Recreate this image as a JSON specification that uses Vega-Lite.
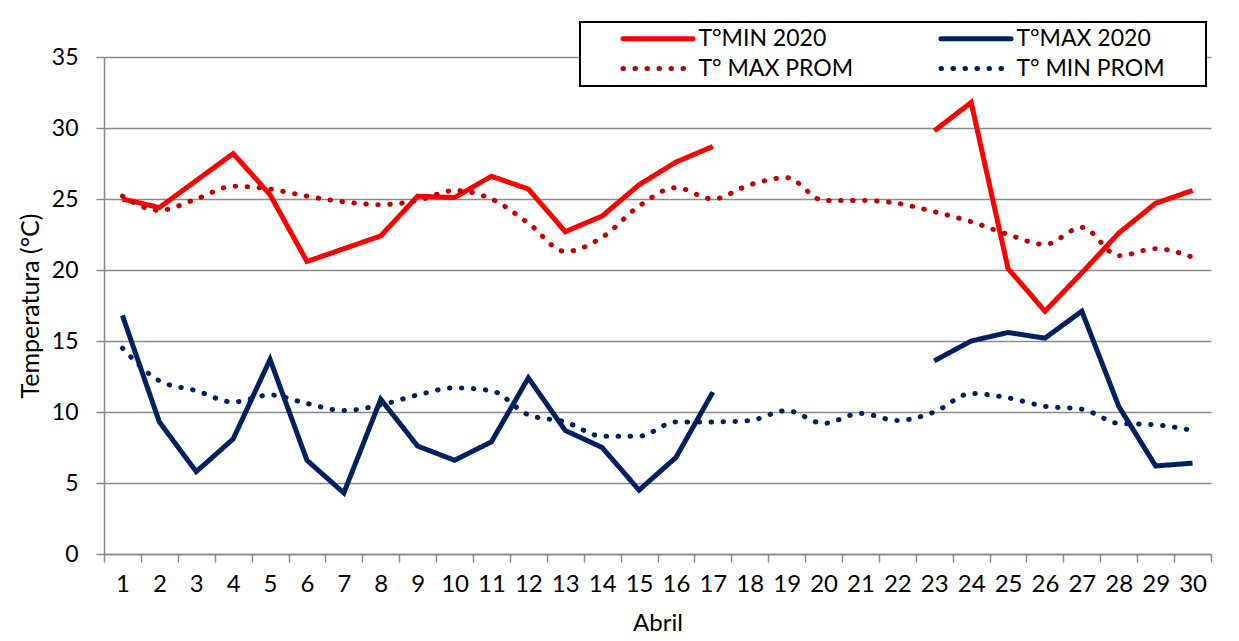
{
  "$schema": "https://vega.github.io/schema/vega-lite/v6.json",
  "width": 1107,
  "height": 497,
  "autosize": {"type": "none"},
  "padding": {"left": 104, "top": 57, "right": 28, "bottom": 87},
  "background": "white",
  "config": {
    "font": "Lato",
    "view": {"stroke": null},
    "legend": {
      "orient": "none",
      "direction": "horizontal",
      "legendX": 476,
      "legendY": -35,
      "columns": 2,
      "symbolType": "M-5,0L5,0",
      "symbolSize": 196,
      "symbolStrokeWidth": 5,
      "symbolOffset": 61.5,
      "labelFontSize": 23,
      "labelColor": "black",
      "labelOffset": 29,
      "strokeColor": "black",
      "strokeWidth": 2,
      "fillColor": "white",
      "padding": 5,
      "columnPadding": 49,
      "rowPadding": 6,
      "titleOrient": "right",
      "titleFontSize": 10,
      "titlePadding": 36
    }
  },
  "data": {
    "values": [
      {"dia": 1, "tramo": "a", "T°MIN 2020": 25.0, "T°MAX 2020": 16.8, "T° MAX PROM": 25.2, "T° MIN PROM": 14.5},
      {"dia": 2, "tramo": "a", "T°MIN 2020": 24.4, "T°MAX 2020": 9.3, "T° MAX PROM": 24.2, "T° MIN PROM": 12.2},
      {"dia": 3, "tramo": "a", "T°MIN 2020": 26.3, "T°MAX 2020": 5.8, "T° MAX PROM": 25.0, "T° MIN PROM": 11.5},
      {"dia": 4, "tramo": "a", "T°MIN 2020": 28.2, "T°MAX 2020": 8.1, "T° MAX PROM": 25.9, "T° MIN PROM": 10.7},
      {"dia": 5, "tramo": "a", "T°MIN 2020": 25.3, "T°MAX 2020": 13.7, "T° MAX PROM": 25.7, "T° MIN PROM": 11.2},
      {"dia": 6, "tramo": "a", "T°MIN 2020": 20.6, "T°MAX 2020": 6.6, "T° MAX PROM": 25.2, "T° MIN PROM": 10.6},
      {"dia": 7, "tramo": "a", "T°MIN 2020": 21.5, "T°MAX 2020": 4.3, "T° MAX PROM": 24.8, "T° MIN PROM": 10.1},
      {"dia": 8, "tramo": "a", "T°MIN 2020": 22.4, "T°MAX 2020": 10.9, "T° MAX PROM": 24.6, "T° MIN PROM": 10.5},
      {"dia": 9, "tramo": "a", "T°MIN 2020": 25.2, "T°MAX 2020": 7.6, "T° MAX PROM": 24.9, "T° MIN PROM": 11.2},
      {"dia": 10, "tramo": "a", "T°MIN 2020": 25.1, "T°MAX 2020": 6.6, "T° MAX PROM": 25.6, "T° MIN PROM": 11.7},
      {"dia": 11, "tramo": "a", "T°MIN 2020": 26.6, "T°MAX 2020": 7.9, "T° MAX PROM": 25.0, "T° MIN PROM": 11.5},
      {"dia": 12, "tramo": "a", "T°MIN 2020": 25.7, "T°MAX 2020": 12.4, "T° MAX PROM": 23.3, "T° MIN PROM": 9.8},
      {"dia": 13, "tramo": "a", "T°MIN 2020": 22.7, "T°MAX 2020": 8.7, "T° MAX PROM": 21.3, "T° MIN PROM": 9.3},
      {"dia": 14, "tramo": "a", "T°MIN 2020": 23.8, "T°MAX 2020": 7.5, "T° MAX PROM": 22.3, "T° MIN PROM": 8.3},
      {"dia": 15, "tramo": "a", "T°MIN 2020": 26.0, "T°MAX 2020": 4.5, "T° MAX PROM": 24.5, "T° MIN PROM": 8.3},
      {"dia": 16, "tramo": "a", "T°MIN 2020": 27.6, "T°MAX 2020": 6.8, "T° MAX PROM": 25.8, "T° MIN PROM": 9.3},
      {"dia": 17, "tramo": "a", "T°MIN 2020": 28.7, "T°MAX 2020": 11.4, "T° MAX PROM": 25.0, "T° MIN PROM": 9.3},
      {"dia": 18, "tramo": "b", "T°MIN 2020": null, "T°MAX 2020": null, "T° MAX PROM": 26.0, "T° MIN PROM": 9.4},
      {"dia": 19, "tramo": "b", "T°MIN 2020": null, "T°MAX 2020": null, "T° MAX PROM": 26.5, "T° MIN PROM": 10.1},
      {"dia": 20, "tramo": "b", "T°MIN 2020": null, "T°MAX 2020": null, "T° MAX PROM": 24.9, "T° MIN PROM": 9.2},
      {"dia": 21, "tramo": "b", "T°MIN 2020": null, "T°MAX 2020": null, "T° MAX PROM": 24.9, "T° MIN PROM": 9.9},
      {"dia": 22, "tramo": "b", "T°MIN 2020": null, "T°MAX 2020": null, "T° MAX PROM": 24.7, "T° MIN PROM": 9.4},
      {"dia": 23, "tramo": "b", "T°MIN 2020": 29.8, "T°MAX 2020": 13.6, "T° MAX PROM": 24.1, "T° MIN PROM": 10.0},
      {"dia": 24, "tramo": "b", "T°MIN 2020": 31.8, "T°MAX 2020": 15.0, "T° MAX PROM": 23.4, "T° MIN PROM": 11.3},
      {"dia": 25, "tramo": "b", "T°MIN 2020": 20.1, "T°MAX 2020": 15.6, "T° MAX PROM": 22.5, "T° MIN PROM": 11.0},
      {"dia": 26, "tramo": "b", "T°MIN 2020": 17.1, "T°MAX 2020": 15.2, "T° MAX PROM": 21.8, "T° MIN PROM": 10.4},
      {"dia": 27, "tramo": "b", "T°MIN 2020": 19.8, "T°MAX 2020": 17.1, "T° MAX PROM": 23.0, "T° MIN PROM": 10.2},
      {"dia": 28, "tramo": "b", "T°MIN 2020": 22.6, "T°MAX 2020": 10.4, "T° MAX PROM": 21.0, "T° MIN PROM": 9.2},
      {"dia": 29, "tramo": "b", "T°MIN 2020": 24.7, "T°MAX 2020": 6.2, "T° MAX PROM": 21.5, "T° MIN PROM": 9.1},
      {"dia": 30, "tramo": "b", "T°MIN 2020": 25.6, "T°MAX 2020": 6.4, "T° MAX PROM": 20.9, "T° MIN PROM": 8.7}
    ]
  },
  "transform": [
    {"fold": ["T°MIN 2020", "T°MAX 2020", "T° MAX PROM", "T° MIN PROM"], "as": ["serie", "valor"]}
  ],
  "encoding": {
    "x": {
      "field": "dia",
      "type": "ordinal",
      "bandPosition": 0.5,
      "scale": {"type": "band", "paddingInner": 0, "paddingOuter": 0},
      "axis": {
        "title": "Abril",
        "tickBand": "extent",
        "labelAngle": 0,
        "labelFontSize": 24,
        "labelColor": "black",
        "titleFontSize": 24,
        "titleFontWeight": "normal",
        "titleColor": "black",
        "domainColor": "#888888",
        "domainWidth": 1.5,
        "tickColor": "#888888",
        "tickWidth": 1.5,
        "tickSize": 8,
        "labelPadding": 10,
        "titlePadding": 15,
        "grid": false
      }
    },
    "y": {
      "field": "valor",
      "type": "quantitative",
      "scale": {"domain": [0, 35]},
      "axis": {
        "title": "Temperatura (°C)",
        "values": [0, 5, 10, 15, 20, 25, 30, 35],
        "labelFontSize": 23,
        "labelColor": "black",
        "titleFontSize": 25,
        "titleFontWeight": "normal",
        "titleColor": "black",
        "gridColor": "#8c8c8c",
        "gridWidth": 1.5,
        "domainColor": "#888888",
        "domainWidth": 1.5,
        "tickColor": "#888888",
        "tickWidth": 1.5,
        "tickSize": 8,
        "labelPadding": 18,
        "titlePadding": 8
      }
    },
    "color": {
      "field": "serie",
      "type": "nominal",
      "title": " ",
      "scale": {
        "domain": ["T°MIN 2020", "T°MAX 2020", "T° MAX PROM", "T° MIN PROM"],
        "range": ["#FF0000", "#002060", "#C00000", "#002060"]
      },
      "legend": {"encode": {"symbols": {"update": {"strokeCap": {"value": "round"}}}}}
    },
    "strokeDash": {
      "field": "serie",
      "type": "nominal",
      "title": " ",
      "scale": {
        "domain": ["T°MIN 2020", "T°MAX 2020", "T° MAX PROM", "T° MIN PROM"],
        "range": [[1, 0], [1, 0], [0.5, 11.5], [0.5, 11.5]]
      }
    }
  },
  "layer": [
    {
      "transform": [
        {"filter": "datum.valor != null"},
        {"filter": {"field": "serie", "oneOf": ["T°MIN 2020", "T°MAX 2020"]}}
      ],
      "mark": {"type": "line", "strokeWidth": 5},
      "encoding": {"detail": {"field": "tramo", "type": "nominal"}}
    },
    {
      "transform": [
        {"filter": {"field": "serie", "oneOf": ["T° MAX PROM", "T° MIN PROM"]}}
      ],
      "mark": {"type": "line", "strokeWidth": 5, "strokeCap": "round", "interpolate": "monotone"}
    }
  ]
}
